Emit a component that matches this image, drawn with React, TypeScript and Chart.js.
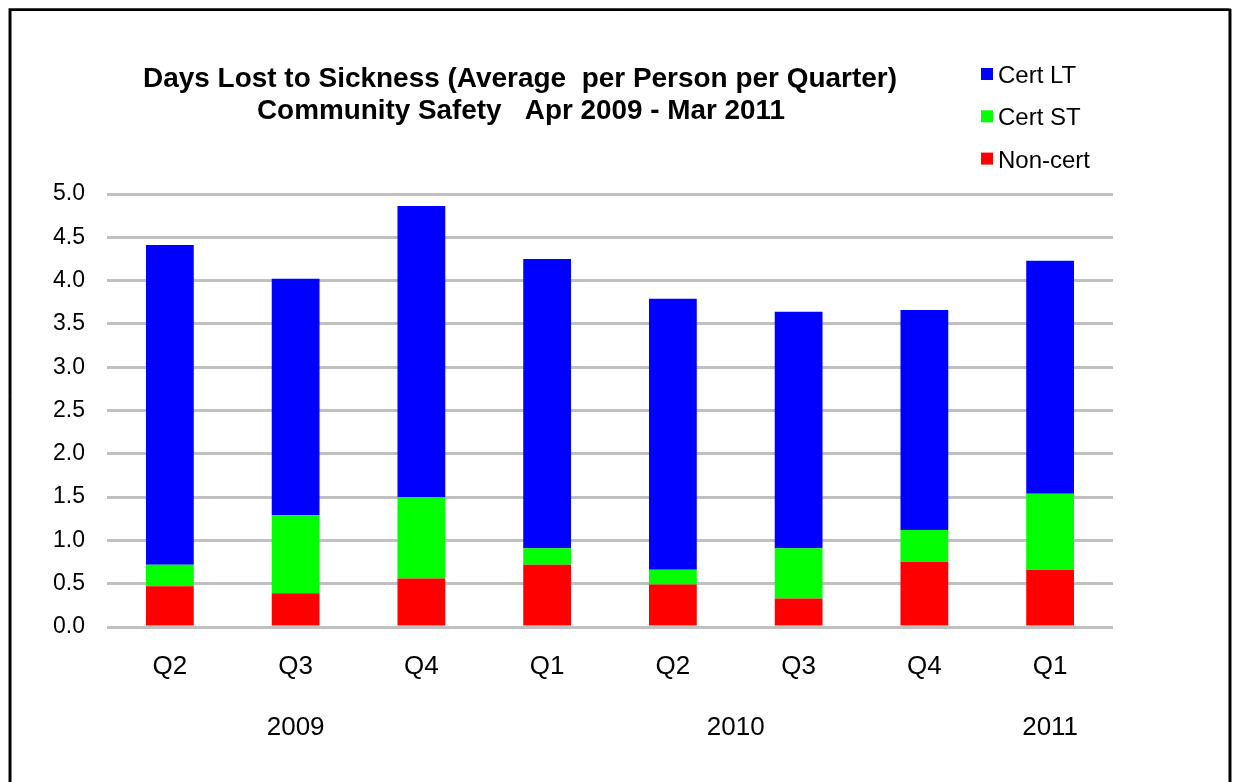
import React, { useEffect, useRef } from "react";
import { Chart, registerables } from "chart.js";

Chart.register(...registerables);

const quarters = ["Q2", "Q3", "Q4", "Q1", "Q2", "Q3", "Q4", "Q1"];
const quarterYears = ["2009", "2009", "2009", "2010", "2010", "2010", "2010", "2011"];
const nonCert = [0.47, 0.39, 0.56, 0.72, 0.49, 0.33, 0.75, 0.66];
const certST = [0.25, 0.9, 0.94, 0.19, 0.17, 0.58, 0.37, 0.88];
const certLT = [3.69, 2.73, 3.36, 3.34, 3.13, 2.73, 2.54, 2.69];
const yTicks = [0, 0.5, 1, 1.5, 2, 2.5, 3, 3.5, 4, 4.5, 5];
const titleLines = [
  "Days Lost to Sickness (Average  per Person per Quarter)",
  "Community Safety   Apr 2009 - Mar 2011",
];

const FONT = '"Liberation Sans", Arial, Helvetica, sans-serif';

// year groups: center index of each run of equal years
const yearGroups: { label: string; center: number }[] = [];
{
  let start = 0;
  for (let i = 1; i <= quarterYears.length; i++) {
    if (i === quarterYears.length || quarterYears[i] !== quarterYears[start]) {
      yearGroups.push({ label: quarterYears[start], center: (start + i - 1) / 2 });
      start = i;
    }
  }
}

const framePlugin = {
  id: "frame",
  beforeDraw(chart: any) {
    const ctx = chart.ctx;
    ctx.save();
    ctx.fillStyle = "#ffffff";
    ctx.fillRect(0, 0, chart.width, chart.height);
    ctx.strokeStyle = "#888888";
    ctx.lineWidth = 1;
    ctx.beginPath();
    ctx.moveTo(8.5, 900);
    ctx.lineTo(8.5, 8.5);
    ctx.lineTo(1229, 8.5);
    ctx.moveTo(1231.5, 9);
    ctx.lineTo(1231.5, 900);
    ctx.stroke();
    ctx.strokeStyle = "#000000";
    ctx.lineWidth = 2.5;
    ctx.beginPath();
    ctx.moveTo(10.25, 900);
    ctx.lineTo(10.25, 9.75);
    ctx.lineTo(1229.75, 9.75);
    ctx.lineTo(1229.75, 900);
    ctx.stroke();
    ctx.restore();
  },
  afterDraw(chart: any) {
    const ctx = chart.ctx;
    ctx.save();
    // title
    ctx.fillStyle = "#000";
    ctx.textAlign = "center";
    ctx.textBaseline = "alphabetic";
    ctx.font = `bold 28px ${FONT}`;
    ctx.fillText(titleLines[0], 520, 87, 754);
    ctx.fillText(titleLines[1], 521, 119, 528);
    // legend (reverse dataset order)
    const ds = chart.data.datasets.slice().reverse();
    ctx.textAlign = "left";
    ctx.font = `24px ${FONT}`;
    ds.forEach((d: any, i: number) => {
      const y = 68 + i * 42.3;
      ctx.fillStyle = d.backgroundColor;
      ctx.fillRect(981, y, 12, 12);
      ctx.fillStyle = "#000";
      ctx.fillText(d.label, 998, y + 15);
    });
    ctx.restore();
  },
};

export default function App() {
  const ref = useRef<HTMLCanvasElement | null>(null);
  useEffect(() => {
    if (!ref.current) return;
    const chart = new Chart(ref.current, {
      type: "bar",
      data: {
        labels: quarters,
        datasets: [
          { label: "Non-cert", data: nonCert, backgroundColor: "#ff0000" },
          { label: "Cert ST", data: certST, backgroundColor: "#00ff00" },
          { label: "Cert LT", data: certLT, backgroundColor: "#0000ff" },
        ],
      },
      options: {
        animation: false,
        responsive: false,
        devicePixelRatio: 1,
        layout: { padding: { left: 0, right: 121, top: 194, bottom: 25 } },
        datasets: { bar: { barPercentage: 0.38, categoryPercentage: 1, borderWidth: 0 } },
        plugins: {
          legend: { display: false },
          title: { display: false },
          tooltip: { enabled: false },
        },
        scales: {
          y: {
            stacked: true,
            min: 0,
            max: 5,
            afterFit: (s: any) => {
              s.width = 107;
            },
            afterBuildTicks: (axis: any) => {
              axis.ticks = yTicks.map((v) => ({ value: v }));
            },
            ticks: {
              padding: 22,
              color: "#000",
              font: { family: FONT, size: 23 },
              callback: (v: any) => Number(v).toFixed(1),
            },
            grid: { color: "#c0c0c0", lineWidth: 3, drawTicks: false },
            border: { display: false },
          },
          x: {
            stacked: true,
            weight: 0,
            afterFit: (s: any) => {
              s.height = 70;
            },
            ticks: {
              padding: 24,
              color: "#000",
              font: { family: FONT, size: 26 },
              maxRotation: 0,
              autoSkip: false,
            },
            grid: { display: false, drawTicks: false },
            border: { display: false },
          },
          x2: {
            type: "linear",
            position: "bottom",
            weight: 1,
            offset: false,
            min: -0.5,
            max: quarters.length - 0.5,
            afterFit: (s: any) => {
              s.height = 60;
            },
            afterBuildTicks: (axis: any) => {
              axis.ticks = yearGroups.map((g) => ({ value: g.center }));
            },
            ticks: {
              padding: 15,
              color: "#000",
              autoSkip: false,
              maxRotation: 0,
              font: { family: FONT, size: 26 },
              callback: (v: any) => {
                const g = yearGroups.find((y) => Math.abs(y.center - Number(v)) < 1e-6);
                return g ? g.label : "";
              },
            },
            grid: { display: false, drawTicks: false, offset: false },
            border: { display: false },
          },
        },
      },
      plugins: [framePlugin],
    } as any);
    return () => chart.destroy();
  }, []);
  return (
    <canvas
      ref={ref}
      width={1234}
      height={782}
      style={{ position: "absolute", left: 0, top: 0, width: 1234, height: 782 }}
    />
  );
}
